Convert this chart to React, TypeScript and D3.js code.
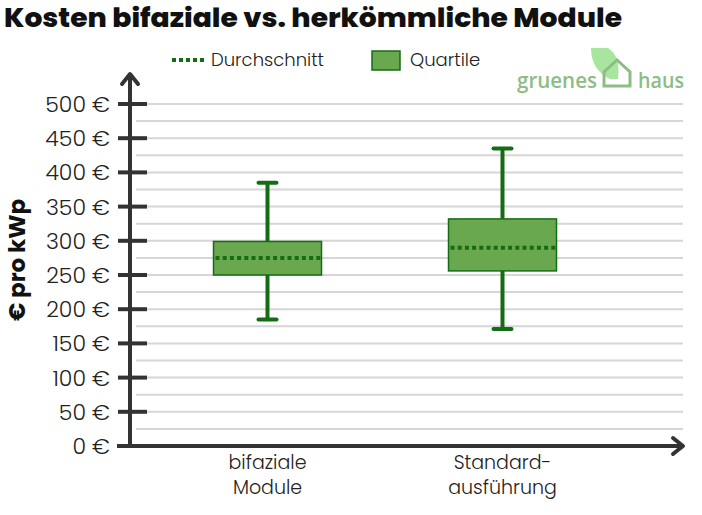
import React from "react";
import * as d3 from "d3";

const categories = [["bifaziale", "Module"], ["Standard-", "ausführung"]];
const minValues = [185, 171];
const q1Values = [250, 256];
const meanValues = [275, 290];
const q3Values = [299, 332];
const maxValues = [385, 435];
const yTicks = [0, 50, 100, 150, 200, 250, 300, 350, 400, 450, 500];
const gridValues = d3.range(25, 501, 25);

const W = 702, H = 515;
const DARK = "#146c14";
const FILL = "#6aa84f";
const AXIS = "#333333";
const FONT = "Poppins, 'Open Sans', 'Noto Sans', sans-serif";

export default function App() {
  const y = d3.scaleLinear().domain([0, 500]).range([446, 104]);
  const x = d3.scaleBand<number>().domain([0, 1]).range([150, 620]);
  const boxW = 108;
  const capW = 18;
  const axisX = 130;

  return (
    <svg width={W} height={H} style={{ position: "absolute", left: 0, top: 0, background: "#fff" }}>
      <text x={4} y={27} fontFamily={FONT} fontWeight={800} fontSize={26} fill="#111" textLength={618} lengthAdjust="spacingAndGlyphs">
        Kosten bifaziale vs. herkömmliche Module
      </text>

      {/* legend */}
      <line x1={172} x2={205} y1={60} y2={60} stroke={DARK} strokeWidth={4} strokeDasharray="4 3" />
      <text x={211} y={66} fontFamily={FONT} fontSize={18} fill="#222" fontWeight={300}>Durchschnitt</text>
      <rect x={372} y={51} width={28} height={19} fill={FILL} stroke={DARK} strokeWidth={1.5} />
      <text x={410} y={66} fontFamily={FONT} fontSize={18} fill="#222" fontWeight={300}>Quartile</text>

      {/* logo */}
      <g>
        <path d="M591,48 L608,48 Q621,56 618,79 L610,79 Q591,70 591,48 Z" fill="#a8e6a0" />
        <path d="M604,86 L604,72 L617,60 L630,72 L630,86 Z" fill="none" stroke="#8dbd85" strokeWidth={3} strokeLinejoin="miter" />
        <text x={517} y={88} fontFamily="'Open Sans', sans-serif" fontWeight={600} fontSize={22} fill="#8dbd85" textLength={80} lengthAdjust="spacingAndGlyphs">gruenes</text>
        <text x={638} y={88} fontFamily="'Open Sans', sans-serif" fontWeight={600} fontSize={22} fill="#8dbd85" textLength={46} lengthAdjust="spacingAndGlyphs">haus</text>
      </g>

      {/* grid */}
      {gridValues.map((v) => (
        <line key={v} x1={136} x2={683} y1={y(v)} y2={y(v)} stroke="#d6d6d6" strokeWidth={2} />
      ))}

      {/* boxes */}
      {categories.map((c, i) => {
        const cx = (x(i) as number) + x.bandwidth() / 2;
        return (
          <g key={i}>
            <line x1={cx} x2={cx} y1={y(maxValues[i])} y2={y(q3Values[i])} stroke={DARK} strokeWidth={4} />
            <line x1={cx} x2={cx} y1={y(q1Values[i])} y2={y(minValues[i])} stroke={DARK} strokeWidth={4} />
            <line x1={cx - capW / 2} x2={cx + capW / 2} y1={y(maxValues[i])} y2={y(maxValues[i])} stroke={DARK} strokeWidth={4} strokeLinecap="round" />
            <line x1={cx - capW / 2} x2={cx + capW / 2} y1={y(minValues[i])} y2={y(minValues[i])} stroke={DARK} strokeWidth={4} strokeLinecap="round" />
            <rect x={cx - boxW / 2} y={y(q3Values[i])} width={boxW} height={y(q1Values[i]) - y(q3Values[i])} fill={FILL} stroke={DARK} strokeWidth={1.5} />
            <line x1={cx - boxW / 2 + 2} x2={cx + boxW / 2} y1={y(meanValues[i])} y2={y(meanValues[i])} stroke={DARK} strokeWidth={4} strokeDasharray="4 3.2" />
            <text x={cx} y={469} textAnchor="middle" fontFamily={FONT} fontSize={19} fill="#222" fontWeight={300}>{c[0]}</text>
            <text x={cx} y={494} textAnchor="middle" fontFamily={FONT} fontSize={19} fill="#222" fontWeight={300}>{c[1]}</text>
          </g>
        );
      })}

      {/* y axis */}
      <line x1={axisX} x2={axisX} y1={448} y2={74} stroke={AXIS} strokeWidth={4} />
      <path d={`M${axisX - 8},${84} L${axisX},${74} L${axisX + 8},${84}`} fill="none" stroke={AXIS} strokeWidth={4} strokeLinecap="round" strokeLinejoin="round" />
      {yTicks.map((t) => (
        <g key={t}>
          <line x1={118} x2={147} y1={y(t)} y2={y(t)} stroke={AXIS} strokeWidth={4} />
          <text x={110} y={y(t) + 8} textAnchor="end" fontFamily={FONT} fontSize={22} fill="#222" fontWeight={300}>{`${t} €`}</text>
        </g>
      ))}
      {/* x axis */}
      <line x1={117} x2={682} y1={446} y2={446} stroke={AXIS} strokeWidth={4} />
      <path d={`M${673},${438} L${683},${446} L${673},${454}`} fill="none" stroke={AXIS} strokeWidth={4} strokeLinecap="round" strokeLinejoin="round" />

      <text transform="translate(25,260) rotate(-90)" textAnchor="middle" fontFamily={FONT} fontWeight={700} fontSize={23} fill="#111">€ pro kWp</text>
    </svg>
  );
}
